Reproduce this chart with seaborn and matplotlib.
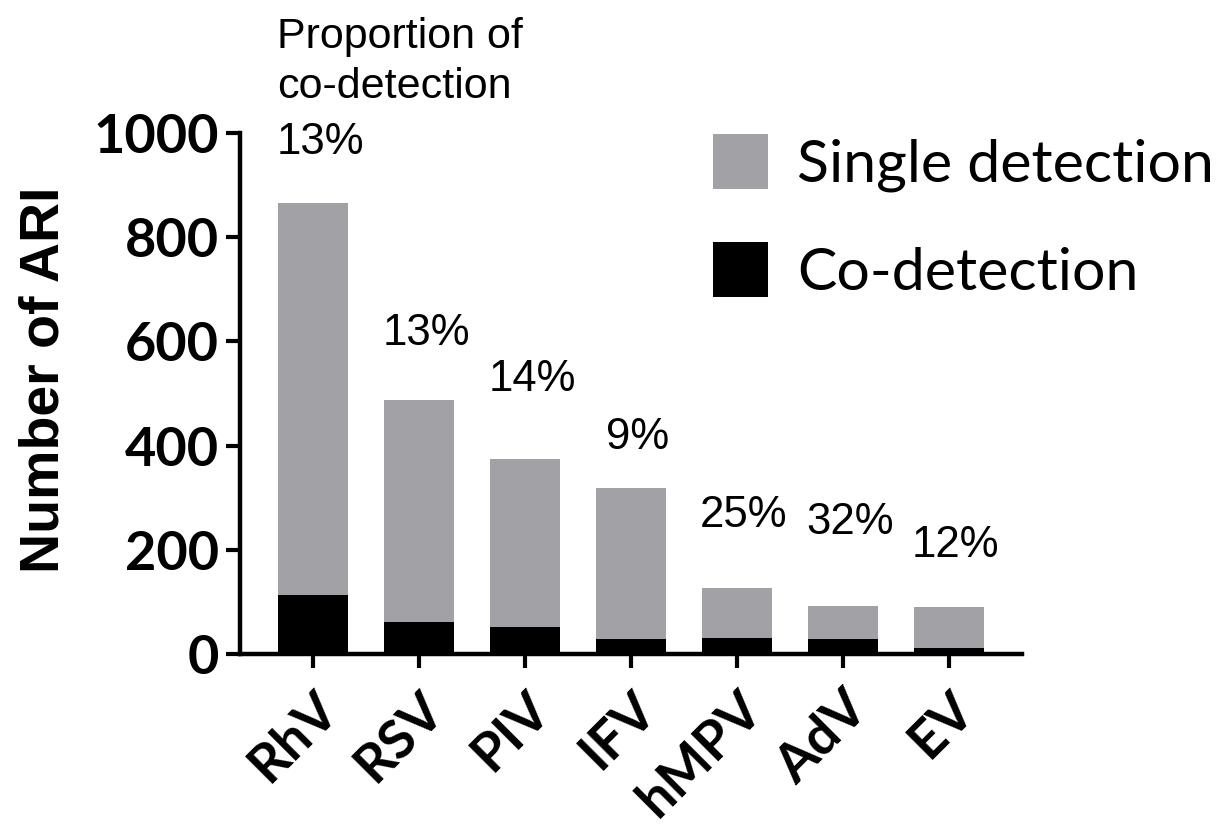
import matplotlib
matplotlib.use("Agg")
import matplotlib.pyplot as plt
import seaborn as sns
import pandas as pd
from matplotlib.patches import Patch

viruses = ["RhV", "RSV", "PIV", "IFV", "hMPV", "AdV", "EV"]
total_ari = [866, 488, 375, 318, 127, 93, 91]
co_detection = [114, 62, 52, 28, 31, 29, 11]
pct_labels = ["13%", "13%", "14%", "9%", "25%", "32%", "12%"]
pct_label_y = [982, 616, 526, 416, 265, 253, 209]
y_ticks = [0, 200, 400, 600, 800, 1000]

GRAY = "#A2A1A6"

sns.set_theme(style="ticks")
plt.rcParams["font.family"] = ["Liberation Sans", "DejaVu Sans"]
for k in ["text.color", "axes.labelcolor", "xtick.color", "ytick.color", "axes.edgecolor"]:
    plt.rcParams[k] = "black"

df = pd.DataFrame({"virus": viruses, "total": total_ari, "co": co_detection})

fig = plt.figure(figsize=(12.29, 8.40), dpi=100)
ax = fig.add_axes([0.1953, 0.2214, 0.8316 - 0.1953, 0.8417 - 0.2214])

sns.barplot(data=df, x="virus", y="total", color=GRAY, width=0.66, ax=ax,
            saturation=1, edgecolor="none")
sns.barplot(data=df, x="virus", y="co", color="black", width=0.66, ax=ax,
            saturation=1, edgecolor="none")

ax.set_xlim(-0.69, 6.69)
ax.set_ylim(0, 1000)
ax.set_yticks(y_ticks)
ax.set_xlabel("")
ax.set_ylabel("Number of ARI", fontsize=40, fontweight="bold")
ax.yaxis.set_label_coords((70 - 240) / 782, (654 - 380) / 521)

for s in ["top", "right"]:
    ax.spines[s].set_visible(False)
for s in ["left", "bottom"]:
    ax.spines[s].set_linewidth(3.2)
    ax.spines[s].set_color("black")
ax.spines["left"].set_bounds(0, 1000)

ax.tick_params(axis="both", which="major", length=10, width=3.0, color="black")
ax.tick_params(axis="y", pad=5)
ax.tick_params(axis="x", pad=11)
for lab in ax.get_yticklabels():
    lab.set_fontweight("bold")
    lab.set_family("Lato")
    lab.set_fontsize(39)
for lab in ax.get_xticklabels():
    lab.set_fontweight("bold")
    lab.set_family("Lato")
    lab.set_fontsize(39)
    lab.set_rotation(45)
    lab.set_ha("right")
    lab.set_rotation_mode("anchor")

for i, (txt, yv) in enumerate(zip(pct_labels, pct_label_y)):
    ax.text(i + 0.065, yv, txt, ha="center", va="center", fontsize=31.5, color="black")

fig.text(277 / 1229, 1 - 48 / 840, "Proportion of", ha="left", va="baseline", fontsize=31)
fig.text(277 / 1229, 1 - 98 / 840, "co-detection", ha="left", va="baseline", fontsize=31)

handles = [Patch(facecolor=GRAY, edgecolor="none", label="Single detection"),
           Patch(facecolor="black", edgecolor="none", label="Co-detection")]
leg = fig.legend(handles=handles, loc="upper left", bbox_to_anchor=(713 / 1229, 1 - 134 / 840),
                 frameon=False, prop={"family": "Lato", "size": 42.5},
                 handlelength=0.93, handleheight=1.05, handletextpad=0.5, labelspacing=0.85,
                 borderaxespad=0, borderpad=0)

fig.savefig("out.png", dpi=100)
